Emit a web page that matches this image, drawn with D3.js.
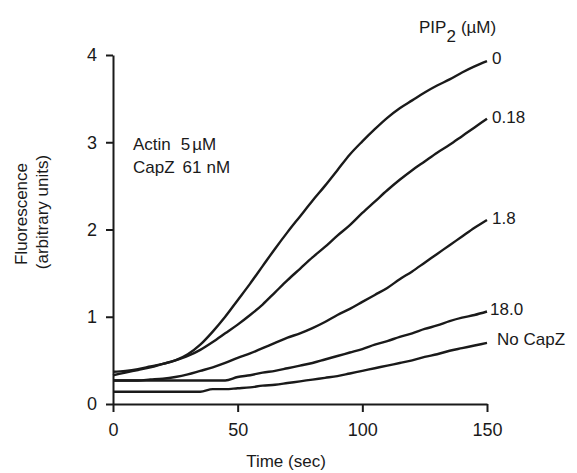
<!DOCTYPE html>
<meta charset="utf-8">
<style>
body { margin: 0; background: #fff; }
text { font-family: "Liberation Sans", Arial, sans-serif; fill: #1a1a1a; }
.trace { fill: none; stroke: #1a1a1a; stroke-width: 2.4px; stroke-linejoin: round; }
.axis path, .axis line { stroke: #1a1a1a; stroke-width: 2px; }
.axis text { font-size: 18px; font-family: "Liberation Sans", Arial, sans-serif; fill: #1a1a1a; }
</style>
<body>
<script src="https://d3js.org/d3.v7.min.js"></script>
<script>

// data (time in sec, fluorescence in arbitrary units)
var time = [0, 5, 10, 15, 20, 25, 30, 35, 40, 45, 50, 55, 60, 65, 70, 75,
            80, 85, 90, 95, 100, 105, 110, 115, 120, 125, 130, 135, 140, 145, 150];

var pip0   = [0.37, 0.38, 0.40, 0.43, 0.46, 0.50, 0.57, 0.68, 0.83, 1.00, 1.19, 1.38, 1.58, 1.78, 1.97, 2.15,
              2.33, 2.50, 2.68, 2.86, 3.01, 3.15, 3.28, 3.39, 3.48, 3.57, 3.65, 3.72, 3.80, 3.87, 3.93];
var pip018 = [0.33, 0.36, 0.39, 0.42, 0.46, 0.50, 0.55, 0.62, 0.71, 0.81, 0.91, 1.02, 1.14, 1.28, 1.42, 1.55,
              1.68, 1.80, 1.93, 2.05, 2.19, 2.32, 2.45, 2.57, 2.68, 2.78, 2.88, 2.97, 3.07, 3.17, 3.27];
var pip18  = [0.27, 0.27, 0.27, 0.28, 0.29, 0.31, 0.34, 0.38, 0.42, 0.47, 0.53, 0.58, 0.64, 0.70, 0.76, 0.81,
              0.87, 0.94, 1.02, 1.09, 1.17, 1.25, 1.33, 1.43, 1.52, 1.62, 1.72, 1.82, 1.92, 2.02, 2.11];
var pip180 = [0.27, 0.27, 0.27, 0.27, 0.27, 0.27, 0.27, 0.27, 0.27, 0.27, 0.31, 0.33, 0.36, 0.38, 0.41, 0.44,
              0.47, 0.51, 0.55, 0.59, 0.63, 0.68, 0.72, 0.77, 0.81, 0.86, 0.90, 0.95, 0.99, 1.02, 1.06];
var noCapZ = [0.14, 0.14, 0.14, 0.14, 0.14, 0.14, 0.14, 0.14, 0.17, 0.17, 0.18, 0.19, 0.21, 0.22, 0.24, 0.26,
              0.28, 0.30, 0.32, 0.35, 0.38, 0.41, 0.44, 0.47, 0.50, 0.54, 0.57, 0.61, 0.64, 0.67, 0.70];

var seriesNames = ["0", "0.18", "1.8", "18.0", "No CapZ"];
var seriesValues = [pip0, pip018, pip18, pip180, noCapZ];

var xTicks = [0, 50, 100, 150];
var yTicks = [0, 1, 2, 3, 4];

var margin = {top: 55, right: 90, bottom: 69, left: 113},
    width = 577 - margin.left - margin.right,
    height = 473 - margin.top - margin.bottom;

var svg = d3.select("body").append("svg")
    .attr("width", 577)
    .attr("height", 473)
  .append("g")
    .attr("transform", "translate(" + margin.left + "," + margin.top + ")");

var x = d3.scaleLinear().domain([0, 150]).range([0, width]);
var y = d3.scaleLinear().domain([0, 4]).range([height, 0]);

// axes
svg.append("g")
    .attr("class", "axis")
    .attr("transform", "translate(0," + height + ")")
    .call(d3.axisBottom(x).tickValues(xTicks).tickFormat(d3.format("d"))
        .tickSize(8).tickSizeOuter(0).tickPadding(11));

svg.append("g")
    .attr("class", "axis")
    .call(d3.axisLeft(y).tickValues(yTicks).tickFormat(d3.format("d"))
        .tickSize(7).tickSizeOuter(0).tickPadding(9));

svg.selectAll(".axis .domain").attr("stroke-width", 2.5);

// traces
var line = d3.line()
    .x(function(d, i) { return x(time[i]); })
    .y(function(d) { return y(d); })
    .curve(d3.curveMonotoneX);

svg.selectAll(".trace")
    .data(seriesValues)
  .enter().append("path")
    .attr("class", "trace")
    .attr("d", line);

// labels at the right end of each trace
var labelDx = [5, 5, 5, 3, 10];
var labelDy = [3, 4, 4, 3, 2];
svg.selectAll(".end-label")
    .data(seriesNames)
  .enter().append("text")
    .attr("class", "end-label")
    .attr("x", function(d, i) { return x(150) + labelDx[i]; })
    .attr("y", function(d, i) { return y(seriesValues[i][time.length - 1]) + labelDy[i]; })
    .attr("font-size", 17)
    .text(function(d) { return d; });

// legend title
var title = svg.append("text")
    .attr("x", 419 - margin.left)
    .attr("y", 33 - margin.top)
    .attr("font-size", 17);
title.append("tspan").text("PIP");
title.append("tspan").attr("font-size", 17).attr("dy", 9).text("2");
title.append("tspan").attr("dy", -9).attr("dx", 5).text("(\u00b5M)");

// conditions
var cond1 = svg.append("text")
    .attr("x", 133 - margin.left)
    .attr("y", 150 - margin.top)
    .attr("font-size", 17);
cond1.append("tspan").text("Actin");
cond1.append("tspan").attr("dx", 10).text("5");
cond1.append("tspan").attr("dx", 2).text("\u00b5M");

var cond2 = svg.append("text")
    .attr("x", 133 - margin.left)
    .attr("y", 173 - margin.top)
    .attr("font-size", 17);
cond2.append("tspan").text("CapZ");
cond2.append("tspan").attr("dx", 8).text("61");
cond2.append("tspan").attr("dx", 5).text("nM");

// axis titles
svg.append("text")
    .attr("x", 286 - margin.left)
    .attr("y", 467 - margin.top)
    .style("text-anchor", "middle")
    .attr("font-size", 17)
    .text("Time (sec)");

svg.append("text")
    .attr("transform", "rotate(-90)")
    .attr("x", -(214 - margin.top))
    .attr("y", 27 - margin.left)
    .style("text-anchor", "middle")
    .attr("font-size", 17)
    .text("Fluorescence");
svg.append("text")
    .attr("transform", "rotate(-90)")
    .attr("x", -(212 - margin.top))
    .attr("y", 48 - margin.left)
    .style("text-anchor", "middle")
    .attr("font-size", 17)
    .text("(arbitrary units)");

</script>
</body>
